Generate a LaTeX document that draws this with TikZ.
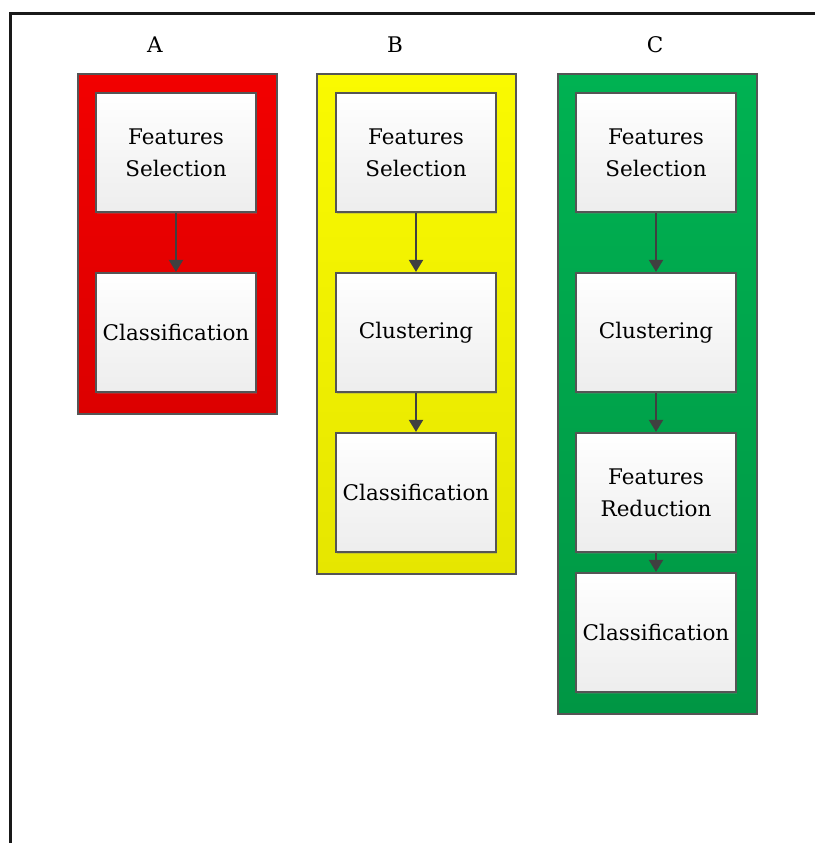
\documentclass[tikz,border=0pt]{standalone}
\usepackage{fontspec}
\setmainfont{DejaVu Serif}
\usetikzlibrary{shadows,arrows.meta}
\definecolor{redT}{RGB}{242,0,0}
\definecolor{redB}{RGB}{220,0,0}
\definecolor{yelT}{RGB}{250,250,0}
\definecolor{yelB}{RGB}{230,230,0}
\definecolor{grnT}{RGB}{0,178,82}
\definecolor{grnB}{RGB}{0,150,68}
\definecolor{edge}{RGB}{85,85,85}
\definecolor{arr}{RGB}{64,64,64}
\tikzset{
  txt/.style={font=\fontsize{21.5}{32}\selectfont, align=center},
  panel/.style={draw=edge, line width=1.5pt, minimum width=199pt, anchor=north west, inner sep=0pt,
    drop shadow={shadow xshift=1pt, shadow yshift=-1.5pt, opacity=0.35}},
  stepbox/.style={txt, draw=edge, line width=2.2pt, minimum width=160pt, minimum height=119pt, inner sep=0pt,
    top color=white, bottom color=black!7,
    drop shadow={shadow xshift=1pt, shadow yshift=-1.5pt, opacity=0.3}},
  flow/.style={draw=arr, line width=2pt, -{Triangle[length=12pt,width=14pt]}},
  lbl/.style={txt}
}
\begin{document}
\begin{tikzpicture}[x=1pt,y=-1pt]
\useasboundingbox (0,0) rectangle (815,843);
\fill[white] (0,0) rectangle (815,843);
% frame
\coordinate (fl) at (10,843);
\coordinate (fc) at (10,14);
\coordinate (fr) at (815,14);
\draw[line width=3pt, black!90] (fl) -- (fc) -- (fr);

% column labels
\node[lbl] (la) at (155,45) {A};
\node[lbl] (lb) at (395,45) {B};
\node[lbl] (lc) at (655,45) {C};

% panels
\node[panel, minimum height=340pt, top color=redT, bottom color=redB] (pa) at (77,73) {};
\node[panel, minimum height=500pt, top color=yelT, bottom color=yelB] (pb) at (316,73) {};
\node[panel, minimum height=640pt, top color=grnT, bottom color=grnB] (pc) at (557,73) {};

% column A
\node[stepbox] (a1) at (176,152.5) {Features\\Selection};
\node[stepbox] (a2) at (176,332.5) {Classification};
% column B
\node[stepbox] (b1) at (416,152.5) {Features\\Selection};
\node[stepbox] (b2) at (416,332.5) {Clustering};
\node[stepbox] (b3) at (416,492.5) {Classification};
% column C
\node[stepbox] (c1) at (656,152.5) {Features\\Selection};
\node[stepbox] (c2) at (656,332.5) {Clustering};
\node[stepbox] (c3) at (656,492.5) {Features\\Reduction};
\node[stepbox] (c4) at (656,632.5) {Classification};

% arrows
\draw[flow] (a1) -- (a2);
\draw[flow] (b1) -- (b2);
\draw[flow] (b2) -- (b3);
\draw[flow] (c1) -- (c2);
\draw[flow] (c2) -- (c3);
\draw[flow] (c3) -- (c4);
\end{tikzpicture}
\end{document}
